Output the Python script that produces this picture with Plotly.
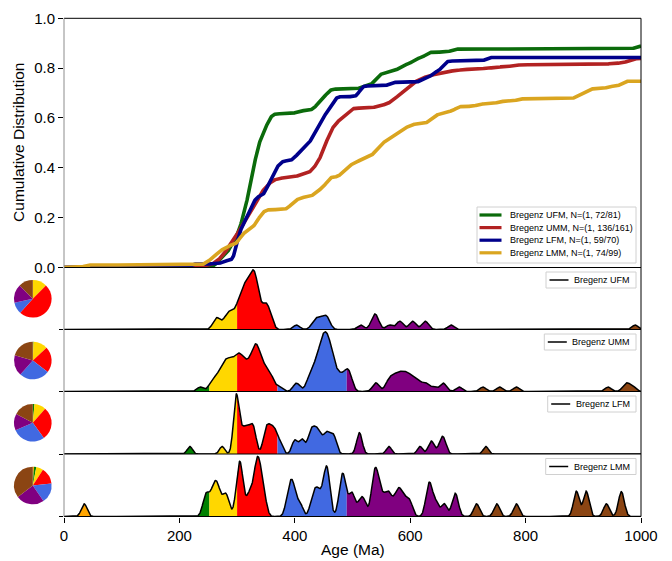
import math
import numpy as np
import plotly.graph_objects as go

# ---------------- data ----------------
sample_names = ["Bregenz UFM", "Bregenz UMM", "Bregenz LFM", "Bregenz LMM"]
n_total = [81, 161, 70, 99]          # grains analysed (incl. > 1000 Ma)

ages_ufm = [261, 265, 268, 278, 282, 285, 288, 291, 295, 298,
            301, 303, 305, 306, 308, 309, 311, 312, 313, 314, 316, 317, 318, 319,
            321, 322, 323, 324, 325, 326, 327, 328, 329, 330, 331, 331, 332, 333,
            334, 336, 337, 338, 343, 346, 348, 350, 351, 353, 356, 359,
            403, 432, 437, 441, 447, 452, 455, 458,
            514, 535, 538, 540, 543, 564, 580, 584, 602, 606, 624, 628, 671,
            990]
ages_umm = [236,
            254, 258, 263, 267, 270, 272, 275, 277, 279, 280, 282, 284, 286, 288,
            289, 291, 293, 295, 297, 299,
            300, 301.5, 303, 304.5, 306, 307.5, 309, 311, 313, 315, 317, 319, 321,
            323, 325, 326.5, 328, 329.5, 330.5, 331.5, 332.5, 333.5, 334.5, 335.5,
            337, 338.5, 340, 342, 344, 346, 348.5, 351, 353.5, 356, 359, 362,
            373, 401, 405, 422, 426, 428, 431, 434, 436, 437, 439, 441, 443, 444.5,
            445, 446, 447.5, 448, 449, 450, 451, 452, 453, 454, 455, 456, 457, 458,
            459, 460, 461.5, 462, 463, 465, 467, 469.5, 472, 475, 478, 482, 485,
            489, 491, 493, 495, 497, 539, 542, 560, 564, 568, 571, 575, 578,
            581, 584, 587, 590, 593, 596, 599, 603, 607, 611, 615, 624, 628, 640,
            655, 659, 685,
            726, 755, 784, 943, 972, 977, 986]
ages_lfm = [218,
            274, 296.5, 297, 297.5, 298, 298.5, 299,
            300, 301, 306, 309, 312, 315, 318, 321, 324, 327, 329, 331, 347, 349.5,
            352, 354.5, 358, 360, 364, 366, 370,
            376, 398, 402, 411, 414, 424, 427, 430, 433, 436, 439, 442, 446, 452,
            455, 458, 463, 467, 470,
            510, 512, 514, 563, 617, 634, 639, 652, 656, 660,
            731]
ages_lmm = [35,
            244, 249,
            257, 261, 265, 269, 278, 283,
            300, 303, 305, 306, 308, 319, 324, 331, 333, 335, 337, 339, 343, 347,
            388, 392, 396, 399, 409, 430, 436, 440, 447, 453, 455, 456.5, 458, 479,
            482, 484, 487,
            497, 501, 513, 520, 535, 537.5, 540, 542.5, 546, 553, 560, 565, 574, 580,
            584, 592, 600, 630, 633, 636, 645, 659, 676, 680,
            715, 750, 784, 888, 888, 905, 905, 940, 965, 967]
sample_ages = [ages_ufm, ages_umm, ages_lfm, ages_lmm]
bandwidth = [5.5, 5.5, 4.5, 5.0]     # KDE kernel width (Ma)

cat_edges = [0, 201, 252, 300, 370, 490, 700, 1000]
cat_colors = ["#FFA500", "#008000", "#FFD700", "#FF0000", "#4169E1", "#800080", "#8B4513"]
cdf_colors = ["#0B6B0B", "#B22222", "#00008B", "#DAA520"]
cdf_labels = ["Bregenz UFM, N=(1, 72/81)", "Bregenz UMM, N=(1, 136/161)",
              "Bregenz LFM, N=(1, 59/70)", "Bregenz LMM, N=(1, 74/99)"]
x_ticks = [0, 200, 400, 600, 800, 1000]
y_ticks = [0.0, 0.2, 0.4, 0.6, 0.8, 1.0]

# ---------------- layout helpers (pixels -> paper) ----------------
W, H = 672, 561
def xp(px): return px / W
def yp(py): return 1 - py / H

X0, X1 = 64, 641
EDGES = [18.3, 267.5, 329.5, 391.5, 454.0, 516.5]
FONT = "Liberation Sans, Arial, sans-serif"

grid = np.linspace(0, 1000, 2001)
erf = np.vectorize(math.erf)

fig = go.Figure()

# ---------------- cumulative panel ----------------
for i, ages in enumerate(sample_ages):
    a = np.array(ages, dtype=float)[:, None]
    s = bandwidth[i]
    cdf = (0.5 * (1 + erf((grid[None, :] - a) / (s * math.sqrt(2))))).sum(axis=0) / n_total[i]
    fig.add_trace(go.Scatter(x=grid, y=cdf, mode="lines", xaxis="x", yaxis="y",
                             line=dict(color=cdf_colors[i], width=3.6),
                             showlegend=False, hoverinfo="skip"))

layout = dict(
    template="none",
    width=W, height=H, autosize=False,
    margin=dict(l=0, r=0, t=0, b=0, pad=0, autoexpand=False),
    paper_bgcolor="white", plot_bgcolor="rgba(0,0,0,0)",
    showlegend=False, font=dict(family=FONT, color="black"),
    xaxis=dict(domain=[xp(X0), xp(X1)], range=[0, 1000], anchor="y", automargin=False,
               showticklabels=False, ticks="", showgrid=False, zeroline=False, showline=False),
    yaxis=dict(domain=[yp(EDGES[1]), yp(EDGES[0])], range=[0, 1], anchor="x", automargin=False,
               tickvals=y_ticks, ticktext=["%.1f" % v for v in y_ticks],
               ticks="outside", ticklen=5, tickwidth=1, tickcolor="black",
               tickfont=dict(size=15, family=FONT, color="black"),
               showgrid=False, zeroline=False, showline=False),
)

shapes = []
annotations = []

# ---------------- KDE panels ----------------
leg_left = [546, 544.3, 547.7, 545.7]
for i, ages in enumerate(sample_ages):
    k = i + 2
    xa, ya = "x%d" % k, "y%d" % k
    a = np.array(ages, dtype=float)[:, None]
    s = bandwidth[i]
    kde = np.exp(-0.5 * ((grid[None, :] - a) / s) ** 2).sum(axis=0)
    for c in range(len(cat_colors)):
        lo, hi = cat_edges[c], cat_edges[c + 1]
        m = (grid >= lo) & (grid <= hi)
        fig.add_trace(go.Scatter(x=grid[m], y=kde[m], mode="lines", xaxis=xa, yaxis=ya,
                                 fill="tozeroy", fillcolor=cat_colors[c],
                                 line=dict(width=0, color=cat_colors[c]),
                                 showlegend=False, hoverinfo="skip"))
    fig.add_trace(go.Scatter(x=grid, y=kde, mode="lines", xaxis=xa, yaxis=ya,
                             line=dict(color="black", width=1.5),
                             showlegend=False, hoverinfo="skip"))
    last = (i == 3)
    layout["xaxis%d" % k] = dict(
        domain=[xp(X0), xp(X1)], range=[0, 1000], anchor=ya, automargin=False,
        tickvals=x_ticks if last else [], ticks="outside" if last else "",
        ticklen=5, tickwidth=1, tickcolor="black", showticklabels=last,
        tickfont=dict(size=15, family=FONT, color="black"),
        showgrid=False, zeroline=False, showline=False)
    layout["yaxis%d" % k] = dict(
        domain=[yp(EDGES[i + 2]), yp(EDGES[i + 1])], range=[0, kde.max() * 1.04],
        anchor=xa, automargin=False, tickvals=[0], ticks="outside", ticklen=4, tickcolor="black",
        showticklabels=False, showgrid=False, zeroline=False, showline=False)

    # pie of age-group proportions (> 1000 Ma grains counted as oldest group)
    counts, _ = np.histogram(ages, bins=cat_edges)
    counts = counts.astype(float)
    counts[-1] += n_total[i] - len(ages)
    cy = [298.8, 360.5, 422.8, 485.5][i]
    cx, r = 32.8, 18.8
    fig.add_trace(go.Pie(values=counts, marker=dict(colors=cat_colors, line=dict(width=0)),
                         sort=False, direction="clockwise", rotation=0,
                         textinfo="none", hoverinfo="skip", showlegend=False,
                         domain=dict(x=[xp(cx - r), xp(cx + r)], y=[yp(cy + r), yp(cy - r)])))

    # panel legend
    top, bot = EDGES[i + 1] + 4.5, EDGES[i + 1] + 20.5
    left = leg_left[i]
    shapes.append(dict(type="rect", xref="paper", yref="paper",
                       x0=xp(left), x1=xp(636), y0=yp(bot), y1=yp(top),
                       line=dict(color="#D0D0D0", width=1), fillcolor="white", layer="above"))
    ly = (top + bot) / 2
    shapes.append(dict(type="line", xref="paper", yref="paper",
                       x0=xp(left + 3.5), x1=xp(left + 22.5), y0=yp(ly), y1=yp(ly),
                       line=dict(color="black", width=1.5), layer="above"))
    annotations.append(dict(xref="paper", yref="paper", x=xp(632), y=yp(ly),
                            xanchor="right", yanchor="middle", showarrow=False,
                            text=sample_names[i], font=dict(size=9, family=FONT, color="black")))

# ---------------- main legend ----------------
shapes.append(dict(type="rect", xref="paper", yref="paper",
                   x0=xp(477), x1=xp(636), y0=yp(263), y1=yp(207),
                   line=dict(color="#D0D0D0", width=1), fillcolor="white", layer="above"))
for i, lab in enumerate(cdf_labels):
    ly = 215 + 12.6 * i
    shapes.append(dict(type="line", xref="paper", yref="paper",
                       x0=xp(479.5), x1=xp(501.5), y0=yp(ly), y1=yp(ly),
                       line=dict(color=cdf_colors[i], width=3.2), layer="above"))
    annotations.append(dict(xref="paper", yref="paper", x=xp(508), y=yp(ly),
                            xanchor="left", yanchor="middle", showarrow=False,
                            text=lab, font=dict(size=9, family=FONT, color="black")))

# ---------------- frame ----------------
for e in EDGES:
    shapes.append(dict(type="line", xref="paper", yref="paper",
                       x0=xp(X0), x1=xp(X1), y0=yp(e), y1=yp(e),
                       line=dict(color="black", width=1), layer="above"))
shapes.append(dict(type="line", xref="paper", yref="paper", x0=xp(X1), x1=xp(X1),
                   y0=yp(EDGES[-1]), y1=yp(EDGES[0]), line=dict(color="black", width=1), layer="above"))
shapes.append(dict(type="line", xref="paper", yref="paper", x0=xp(X0), x1=xp(X0),
                   y0=yp(EDGES[-1]), y1=yp(EDGES[0]), line=dict(color="#8C8C8C", width=1), layer="above"))

# axis titles
annotations.append(dict(xref="paper", yref="paper", x=xp(19), y=yp((EDGES[0] + EDGES[1]) / 2),
                        text="Cumulative Distribution", textangle=-90, showarrow=False,
                        xanchor="center", yanchor="middle", font=dict(size=15.5, family=FONT, color="black")))
annotations.append(dict(xref="paper", yref="paper", x=xp((X0 + X1) / 2), y=yp(549),
                        text="Age (Ma)", showarrow=False, xanchor="center", yanchor="middle",
                        font=dict(size=15.5, family=FONT, color="black")))

layout["shapes"] = shapes
layout["annotations"] = annotations
fig.update_layout(**layout)
fig.write_html("out.html", config={"displayModeBar": False},
               post_script="document.body.style.margin='0';document.body.style.overflow='hidden';")
